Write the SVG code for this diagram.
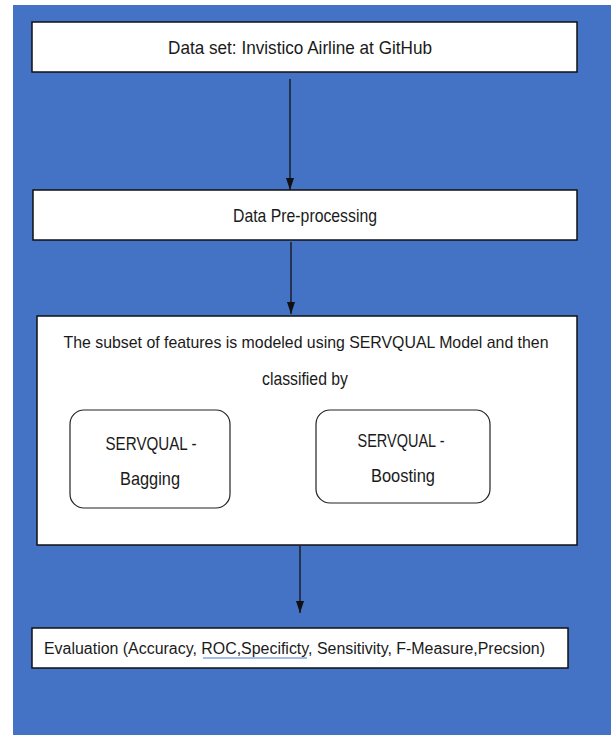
<svg xmlns="http://www.w3.org/2000/svg" width="616" height="735" viewBox="0 0 616 735">
<style>
.box{fill:#fff;stroke:#111;stroke-width:1.5}
.rbox{fill:#fff;stroke:#222;stroke-width:1.2}
.t{font-family:"Liberation Sans Narrow","Liberation Sans",Arial,sans-serif;font-size:19px;fill:#1a1a1a;text-anchor:middle}
.s{font-size:17px}
.tl{font-family:"Liberation Sans Narrow","Liberation Sans",Arial,sans-serif;font-size:16px;fill:#1a1a1a}
.c{stroke:#111;stroke-width:1.3;fill:none;marker-end:url(#ah)}
</style>
<defs>
<marker id="ah" markerWidth="12" markerHeight="8" refX="12" refY="4" orient="auto" markerUnits="userSpaceOnUse" viewBox="0 0 12 8">
<path d="M0,0 L12,4 L0,8 Z" fill="#111"/>
</marker>
</defs>
<rect width="616" height="735" fill="#fff"/>
<rect x="13" y="5" width="598" height="730" fill="#4472C4"/>
<g id="connectors">
<line class="c" x1="290" y1="79" x2="290" y2="190"/>
<line class="c" x1="291" y1="242" x2="291" y2="314"/>
<line class="c" x1="300" y1="546" x2="300" y2="613"/>
</g>
<g id="n1">
<rect class="box" x="32" y="22" width="545" height="50"/>
<text class="t" x="300" y="54" textLength="264" lengthAdjust="spacingAndGlyphs">Data set: Invistico Airline at GitHub</text>
</g>
<g id="n2">
<rect class="box" x="33" y="190" width="544" height="50"/>
<text class="t" x="305" y="222" textLength="144" lengthAdjust="spacingAndGlyphs">Data Pre-processing</text>
</g>
<g id="n3">
<rect class="box" x="37" y="316" width="540" height="229"/>
<text class="t s" x="306" y="348" textLength="485" lengthAdjust="spacingAndGlyphs">The subset of features is modeled using SERVQUAL Model and then</text>
<text class="t" x="305" y="385" textLength="86" lengthAdjust="spacingAndGlyphs">classified by</text>
</g>
<g id="n3a">
<rect class="rbox" x="70" y="410" width="160" height="98" rx="14"/>
<text class="t" x="151" y="450" textLength="91" lengthAdjust="spacingAndGlyphs">SERVQUAL -</text>
<text class="t" x="150" y="485" textLength="60" lengthAdjust="spacingAndGlyphs">Bagging</text>
</g>
<g id="n3b">
<rect class="rbox" x="316" y="410" width="174" height="93" rx="14"/>
<text class="t" x="401" y="447" textLength="87" lengthAdjust="spacingAndGlyphs">SERVQUAL -</text>
<text class="t" x="403" y="482" textLength="64" lengthAdjust="spacingAndGlyphs">Boosting</text>
</g>
<g id="n4">
<rect class="box" x="32" y="628" width="536" height="40"/>
<text class="tl" x="44" y="654" textLength="501" lengthAdjust="spacingAndGlyphs">Evaluation (Accuracy, ROC,Specificty, Sensitivity, F-Measure,Precsion)</text>
<line x1="203" y1="658" x2="307" y2="658" stroke="#4a7bd0" stroke-width="1.2"/>
</g>
</svg>
